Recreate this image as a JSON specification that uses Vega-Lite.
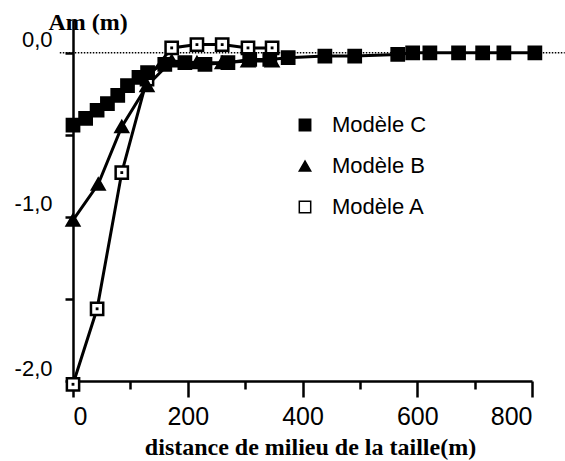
{
  "$schema": "https://vega.github.io/schema/vega-lite/v6.json",
  "width": 459,
  "height": 361,
  "autosize": {"type": "none"},
  "padding": {"left": 73, "top": 20, "right": 33, "bottom": 80},
  "background": "white",
  "config": {
    "view": {"stroke": null},
    "axis": {"grid": false, "domainColor": "black", "tickColor": "black", "labelColor": "black", "titleColor": "black", "domainWidth": 2.5, "tickWidth": 2.5}
  },
  "datasets": {
    "zero": [{"x": -23, "x2": 857, "y": 0}],
    "pts": [
      {"m": "Modèle A", "x": 0, "y": -2.02},
      {"m": "Modèle A", "x": 42, "y": -1.56},
      {"m": "Modèle A", "x": 85, "y": -0.73},
      {"m": "Modèle A", "x": 129, "y": -0.16},
      {"m": "Modèle A", "x": 172, "y": 0.03},
      {"m": "Modèle A", "x": 216, "y": 0.05},
      {"m": "Modèle A", "x": 260, "y": 0.05},
      {"m": "Modèle A", "x": 305, "y": 0.03},
      {"m": "Modèle A", "x": 347, "y": 0.03},
      {"m": "Modèle B", "x": 0, "y": -1.02},
      {"m": "Modèle B", "x": 44, "y": -0.8},
      {"m": "Modèle B", "x": 85, "y": -0.45},
      {"m": "Modèle B", "x": 129, "y": -0.2},
      {"m": "Modèle B", "x": 172, "y": -0.05},
      {"m": "Modèle B", "x": 216, "y": -0.06},
      {"m": "Modèle B", "x": 260, "y": -0.06},
      {"m": "Modèle B", "x": 305, "y": -0.05},
      {"m": "Modèle B", "x": 347, "y": -0.05},
      {"m": "Modèle C", "x": 0, "y": -0.44},
      {"m": "Modèle C", "x": 22, "y": -0.4},
      {"m": "Modèle C", "x": 42, "y": -0.35},
      {"m": "Modèle C", "x": 60, "y": -0.31},
      {"m": "Modèle C", "x": 78, "y": -0.26},
      {"m": "Modèle C", "x": 95, "y": -0.2},
      {"m": "Modèle C", "x": 115, "y": -0.15},
      {"m": "Modèle C", "x": 130, "y": -0.12},
      {"m": "Modèle C", "x": 160, "y": -0.07},
      {"m": "Modèle C", "x": 195, "y": -0.06},
      {"m": "Modèle C", "x": 230, "y": -0.07},
      {"m": "Modèle C", "x": 270, "y": -0.06},
      {"m": "Modèle C", "x": 308, "y": -0.04},
      {"m": "Modèle C", "x": 343, "y": -0.04},
      {"m": "Modèle C", "x": 375, "y": -0.03},
      {"m": "Modèle C", "x": 439, "y": -0.02},
      {"m": "Modèle C", "x": 491, "y": -0.02},
      {"m": "Modèle C", "x": 566, "y": -0.01},
      {"m": "Modèle C", "x": 592, "y": 0.0},
      {"m": "Modèle C", "x": 622, "y": 0.0},
      {"m": "Modèle C", "x": 672, "y": 0.0},
      {"m": "Modèle C", "x": 714, "y": 0.0},
      {"m": "Modèle C", "x": 751, "y": 0.0},
      {"m": "Modèle C", "x": 805, "y": 0.0}
    ]
  },
  "layer": [
    {
      "data": {"name": "zero"},
      "mark": {"type": "rule", "strokeDash": [1.5, 1.5], "strokeWidth": 1.5, "color": "black"},
      "encoding": {
        "x": {
          "field": "x", "type": "quantitative",
          "scale": {"domain": [0, 800], "nice": false, "zero": false},
          "axis": {
            "values": [0, 100, 200, 300, 400, 500, 600, 700, 800],
            "labelExpr": "datum.value % 200 === 0 ? datum.label : ''",
            "tickSize": {"condition": {"test": "datum.value % 200 === 0", "value": 16}, "value": 8},
            "labelPadding": 7,
            "labelFont": "Liberation Sans",
            "labelFontSize": 25,
            "title": "distance de milieu de la taille(m)",
            "titleFont": "Liberation Serif",
            "titleFontWeight": "bold",
            "titleFontSize": 24,
            "titleBaseline": "alphabetic",
            "titleX": 237,
            "titleY": 73
          }
        },
        "x2": {"field": "x2"},
        "y": {
          "field": "y", "type": "quantitative",
          "scale": {"domain": [-2, 0.2], "nice": false, "zero": false},
          "axis": {
            "values": [-2, -1.5, -1, -0.5, 0],
            "labelExpr": "datum.value === 0 ? '0,0' : (datum.value % 1 === 0 ? datum.value + ',0' : '')",
            "labelFont": "Liberation Sans",
            "labelFontSize": 22,
            "labelBaseline": "alphabetic",
            "labelOffset": -6,
            "tickSize": 8,
            "labelPadding": 13,
            "title": "Am (m)",
            "titleAngle": 0,
            "titleFont": "Liberation Serif",
            "titleFontWeight": "bold",
            "titleFontSize": 24,
            "titleAlign": "left",
            "titleBaseline": "alphabetic",
            "titleX": -25,
            "titleY": 9
          }
        }
      }
    },
    {
      "data": {"name": "pts"},
      "mark": {"type": "line", "color": "black", "strokeWidth": 3},
      "encoding": {
        "x": {"field": "x", "type": "quantitative"},
        "y": {"field": "y", "type": "quantitative"},
        "detail": {"field": "m"}
      }
    },
    {
      "data": {"name": "pts"},
      "mark": {"type": "point", "stroke": "black", "strokeWidth": 2.5, "opacity": 1, "size": 150},
      "encoding": {
        "x": {"field": "x", "type": "quantitative"},
        "y": {"field": "y", "type": "quantitative"},
        "shape": {
          "field": "m", "type": "nominal",
          "scale": {"domain": ["Modèle C", "Modèle B", "Modèle A"], "range": ["square", "triangle-up", "square"]},
          "legend": {"title": null, "orient": "none", "legendX": 221, "legendY": 94, "labelFont": "Liberation Sans", "labelFontSize": 22, "labelColor": "black", "symbolSize": 130, "rowPadding": 19, "labelOffset": 16, "encode": {"symbols": {"update": {"stroke": {"value": "black"}, "strokeWidth": {"value": 2.5}}}}}
        },
        "fill": {
          "field": "m", "type": "nominal",
          "scale": {"domain": ["Modèle C", "Modèle B", "Modèle A"], "range": ["black", "black", "white"]},
          "legend": {"title": null, "orient": "none", "legendX": 221, "legendY": 94, "labelFont": "Liberation Sans", "labelFontSize": 22, "labelColor": "black", "symbolSize": 130, "rowPadding": 19, "labelOffset": 16, "encode": {"symbols": {"update": {"stroke": {"value": "black"}, "strokeWidth": {"value": 2.5}}}}}
        }
      }
    },
    {
      "data": {"name": "pts"},
      "transform": [{"filter": "datum.m === 'Modèle A'"}],
      "mark": {"type": "point", "filled": true, "color": "black", "size": 8, "shape": "square", "opacity": 1},
      "encoding": {
        "x": {"field": "x", "type": "quantitative"},
        "y": {"field": "y", "type": "quantitative"}
      }
    }
  ]
}
